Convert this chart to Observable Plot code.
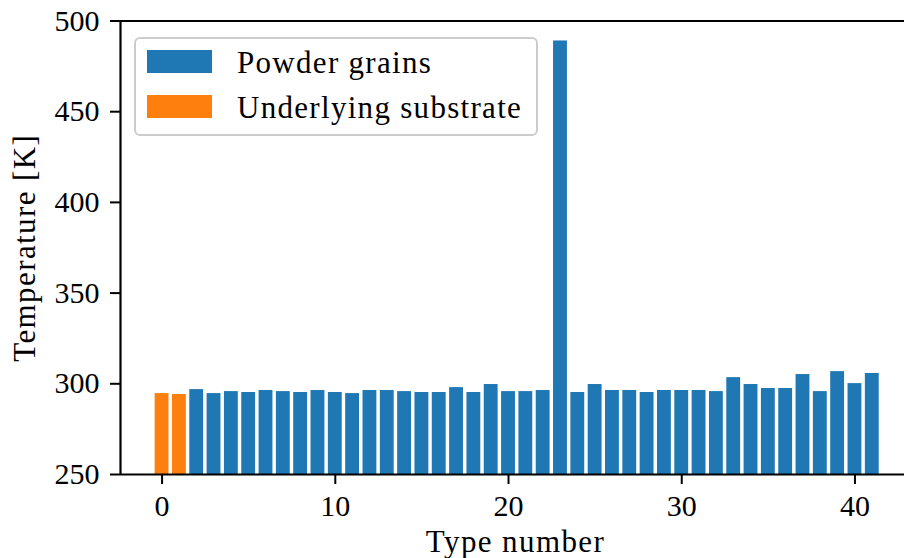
<!DOCTYPE html>
<html>
<head>
<meta charset="utf-8">
<script src="https://cdn.jsdelivr.net/npm/d3@7"></script>
<script src="https://cdn.jsdelivr.net/npm/@observablehq/plot@0.6"></script>
<style>
  html, body { margin: 0; padding: 0; background: #fff; }
  #wrap { position: relative; width: 904px; height: 558px; overflow: hidden; }
  #legend {
    position: absolute; left: 134px; top: 37px; width: 400px; height: 95px;
    border: 2px solid #cccccc; border-radius: 6px; background: rgba(255,255,255,0.8);
    font-family: "Liberation Serif", serif; font-size: 31px; letter-spacing: 1.3px; color: #000;
  }
  .row { position: absolute; left: 11px; height: 23px; display: flex; align-items: flex-end; }
  .sw { width: 65px; height: 23px; margin-right: 25px; flex: none; }
  .lbl { line-height: 23px; white-space: nowrap; position: relative; top: 1px; }
</style>
</head>
<body>
<div id="wrap"></div>
<script>
// Data
const substrateTypes = [0, 1];
const substrateTemps = [294.6, 294.1];
const grainTypes = [2,3,4,5,6,7,8,9,10,11,12,13,14,15,16,17,18,19,20,21,22,23,24,25,26,27,28,29,30,31,32,33,34,35,36,37,38,39,40,41];
const grainTemps = [296.8,294.6,295.7,295.2,296.3,295.7,295.2,296.3,295.2,294.6,296.3,296.3,295.7,295.2,295.2,297.9,295.2,299.6,295.7,295.7,296.3,489.0,295.2,299.6,296.3,296.3,295.2,296.3,296.3,296.3,295.7,303.4,299.6,297.4,297.4,305.1,295.7,306.7,300.1,305.7];
const seriesNames = ["Powder grains", "Underlying substrate"];
const seriesColors = ["#1f77b4", "#ff7f0e"];
const xTicks = [0, 10, 20, 30, 40];
const yTicks = [250, 300, 350, 400, 450, 500];
const xLabel = "Type number";
const yLabel = "Temperature [K]";
const xDomain = [-2.4, 42.86];
const yDomain = [250, 500];
const barHalfWidth = 0.4;

const rows = [
  ...substrateTypes.map((t, i) => ({type: t, temp: substrateTemps[i], series: seriesNames[1]})),
  ...grainTypes.map((t, i) => ({type: t, temp: grainTemps[i], series: seriesNames[0]}))
];

const serif = "Liberation Serif";

const chart = Plot.plot({
  width: 904,
  height: 558,
  marginLeft: 120,
  marginRight: 0,
  marginTop: 20.5,
  marginBottom: 84,
  style: {fontFamily: "Liberation Serif, serif", fontSize: "30px"},
  x: {domain: xDomain},
  y: {domain: yDomain},
  color: {domain: seriesNames, range: seriesColors},
  marks: [
    Plot.rectY(rows, {
      x1: d => d.type - barHalfWidth,
      x2: d => d.type + barHalfWidth,
      y1: yDomain[0],
      y2: "temp",
      fill: "series"
    }),
    // tick lines only (labels drawn with text marks below)
    Plot.axisX({ticks: xTicks, tickSize: 10, label: null, tickFormat: () => ""}),
    Plot.axisY({ticks: yTicks, tickSize: 10, label: null, tickFormat: () => ""}),
    // tick labels
    Plot.text(xTicks, {x: d => d, y: yDomain[0], text: d => String(d), dy: 20, lineAnchor: "top", textAnchor: "middle", fontSize: 30, fontFamily: serif}),
    Plot.text(yTicks, {x: xDomain[0], y: d => d, text: d => String(d), dx: -21, textAnchor: "end", lineAnchor: "middle", fontSize: 30, fontFamily: serif}),
    // spines
    Plot.ruleY([yDomain[0]], {stroke: "#000", strokeWidth: 2.2}),
    Plot.ruleY([yDomain[1]], {stroke: "#000", strokeWidth: 2.2}),
    Plot.ruleX([xDomain[0]], {stroke: "#000", strokeWidth: 2.2}),
    // axis titles
    Plot.text([xLabel], {frameAnchor: "bottom", dy: 77, dx: 3, textAnchor: "middle", lineAnchor: "bottom", fontSize: 31, fontFamily: serif}),
    Plot.text([yLabel], {frameAnchor: "left", dx: -86, rotate: -90, textAnchor: "middle", lineAnchor: "bottom", fontSize: 31, fontFamily: serif})
  ]
});

// styling tweaks: thicker tick lines, wider spacing on axis titles
d3.select(chart).selectAll('g[aria-label="x-axis tick"], g[aria-label="y-axis tick"]').attr("stroke-width", 2);
d3.select(chart).selectAll("text")
  .filter(function () { return this.textContent === xLabel || this.textContent === yLabel; })
  .style("letter-spacing", "1.4px");

const wrap = document.getElementById("wrap");
wrap.appendChild(chart);

// Legend
const legend = document.createElement("div");
legend.id = "legend";
seriesNames.forEach((name, i) => {
  const row = document.createElement("div");
  row.className = "row";
  row.style.top = (11 + i * 45) + "px";
  const sw = document.createElement("div");
  sw.className = "sw";
  sw.style.background = seriesColors[i];
  const lbl = document.createElement("span");
  lbl.className = "lbl";
  lbl.textContent = name;
  row.appendChild(sw);
  row.appendChild(lbl);
  legend.appendChild(row);
});
wrap.appendChild(legend);
</script>
</body>
</html>
